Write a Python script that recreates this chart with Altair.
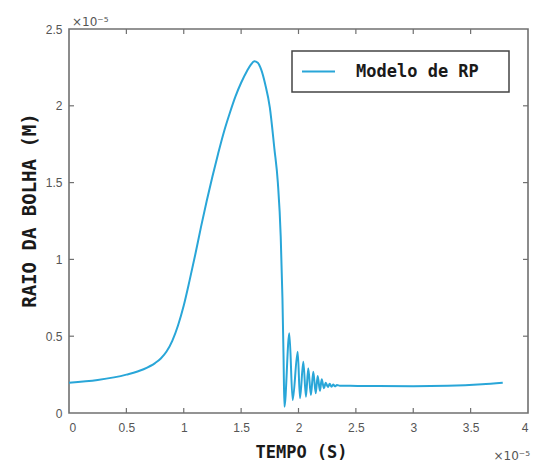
import altair as alt
import pandas as pd

# Time (x 1e-5 s) and bubble radius (x 1e-5 m)
time = [0.0, 0.25, 0.5, 0.65, 0.75, 0.8, 0.85, 0.9, 0.95, 1.0, 1.05, 1.1, 1.15, 1.2,
        1.25, 1.3, 1.35, 1.4, 1.45, 1.5, 1.55, 1.585, 1.615, 1.645, 1.675, 1.71, 1.75,
        1.79, 1.82, 1.845, 1.86, 1.87, 1.877,
        1.92, 1.949, 1.993, 2.013, 2.042, 2.065, 2.085, 2.108, 2.129, 2.15, 2.167,
        2.187, 2.202, 2.222, 2.237, 2.257, 2.272, 2.288, 2.302, 2.318, 2.335, 2.36,
        2.45, 2.6, 3.0, 3.3, 3.6, 3.78]
radius = [0.197, 0.215, 0.25, 0.285, 0.325, 0.355, 0.40, 0.47, 0.57, 0.70, 0.86,
          1.03, 1.21, 1.38, 1.54, 1.69, 1.83, 1.95, 2.06, 2.15, 2.225, 2.268, 2.29,
          2.28, 2.235, 2.14, 1.99, 1.72, 1.50, 1.15, 0.75, 0.35, 0.04,
          0.519, 0.085, 0.399, 0.096, 0.334, 0.106, 0.291, 0.117, 0.269, 0.128,
          0.241, 0.145, 0.219, 0.161, 0.197, 0.169, 0.19, 0.171, 0.186, 0.174,
          0.182, 0.178, 0.177, 0.176, 0.174, 0.177, 0.187, 0.197]
series_name = "Modelo de RP"

x_ticks = [0, 0.5, 1, 1.5, 2, 2.5, 3, 3.5, 4]
y_ticks = [0, 0.5, 1, 1.5, 2, 2.5]
exponent_label = "×10⁻⁵"

W, H = 459, 384
LINE_COLOR = "#29a6d8"
FRAME = "#707070"

df = pd.DataFrame({"t": time, "r": radius, "serie": [series_name] * len(time)})
xt = pd.DataFrame({"v": x_ticks[1:-1]})
yt = pd.DataFrame({"v": y_ticks[1:-1]})
leg = pd.DataFrame({"serie": [series_name]})

xs = alt.Scale(domain=[0, 4], nice=False, zero=False)
ys = alt.Scale(domain=[0, 2.5], nice=False, zero=False)

line = alt.Chart(df).mark_line(strokeWidth=2, interpolate="monotone",
                               color=LINE_COLOR).encode(
    x=alt.X("t:Q", scale=xs,
            axis=alt.Axis(values=x_ticks, format="~g", title="TEMPO (S)", ticks=False,
                          domain=False, grid=False, labelPadding=9,
                          titleX=232, titleY=39, titleBaseline="middle",
                          titleAlign="center")),
    y=alt.Y("r:Q", scale=ys,
            axis=alt.Axis(values=y_ticks, format="~g", title="RAIO DA BOLHA (M)",
                          ticks=False, domain=False, grid=False, labelPadding=7,
                          titleAngle=270, titleX=-40, titleY=181, titleFontSize=19,
                          titleBaseline="middle", titleAlign="center")),
    detail="serie:N",
)

tick_len = 5
xb = alt.Chart(xt).mark_rule(color=FRAME, strokeWidth=1.2).encode(
    x=alt.X("v:Q", scale=xs), y=alt.value(H), y2=alt.value(H - tick_len))
xtop = alt.Chart(xt).mark_rule(color=FRAME, strokeWidth=1.2).encode(
    x=alt.X("v:Q", scale=xs), y=alt.value(0), y2=alt.value(tick_len))
yl = alt.Chart(yt).mark_rule(color=FRAME, strokeWidth=1.2).encode(
    y=alt.Y("v:Q", scale=ys), x=alt.value(0), x2=alt.value(tick_len))
yr = alt.Chart(yt).mark_rule(color=FRAME, strokeWidth=1.2).encode(
    y=alt.Y("v:Q", scale=ys), x=alt.value(W), x2=alt.value(W - tick_len))

# legend box (top right, inside the plot)
leg_box = alt.Chart(leg).mark_rect(fill="white", stroke="#444", strokeWidth=1.5).encode(
    x=alt.value(223), x2=alt.value(440), y=alt.value(22), y2=alt.value(63))
leg_sym = alt.Chart(leg).mark_rule(color=LINE_COLOR, strokeWidth=2).encode(
    x=alt.value(233), x2=alt.value(266), y=alt.value(42.5))
leg_txt = alt.Chart(leg).mark_text(
    align="left", baseline="middle", font="DejaVu Sans Mono", fontWeight="bold",
    fontSize=17, color="#1a1a1a").encode(
    x=alt.value(287), y=alt.value(43), text="serie:N")

exp_top = alt.Chart(pd.DataFrame({"s": [exponent_label]})).mark_text(
    align="left", baseline="alphabetic", dx=3, dy=-3, fontSize=12,
    font="DejaVu Sans", color="#555").encode(
    x=alt.datum(0), y=alt.datum(2.5), text="s:N")
exp_bot = alt.Chart(pd.DataFrame({"s": [exponent_label]})).mark_text(
    align="right", baseline="alphabetic", dx=2, dy=47, fontSize=12,
    font="DejaVu Sans", color="#555").encode(
    x=alt.datum(4), y=alt.datum(0), text="s:N")

chart = alt.layer(line, xb, xtop, yl, yr, leg_box, leg_sym, leg_txt,
                  exp_top, exp_bot).properties(
    width=W, height=H,
    autosize=alt.AutoSizeParams(type="none"),
    padding={"left": 69, "top": 29, "right": 10, "bottom": 51},
    background="white",
).configure_view(
    stroke=FRAME, strokeWidth=1.6
).configure_axis(
    labelFont="Liberation Sans", labelFontSize=12, labelColor="#555",
    titleFont="DejaVu Sans Mono", titleFontWeight="bold", titleFontSize=17,
    titleColor="#1a1a1a"
)

chart.save("out.html", embed_options={"renderer": "svg", "actions": False})
